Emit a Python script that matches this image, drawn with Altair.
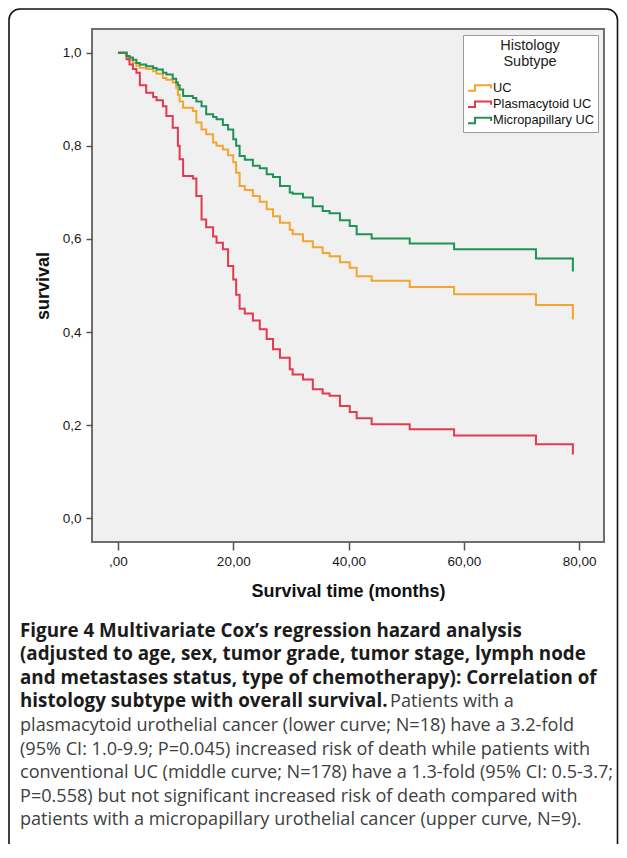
import altair as alt
import pandas as pd

# ---------------- data ----------------
times = [0, 1.5, 2.0, 2.6, 3.2, 3.8, 4.9, 6.1, 6.7, 7.8,
         8.4, 9.5, 10.1, 10.4, 10.7, 11.3, 13.0, 13.6, 14.5, 15.3,
         16.5, 17.1, 18.2, 19.1, 20.0, 20.5, 21.1, 22.0, 23.4, 24.6,
         25.8, 26.9, 28.1, 29.8, 30.3, 32.1, 33.8, 35.5, 36.7, 38.5,
         40.2, 41.4, 44.0, 50.6, 58.3, 72.5, 78.9]

uc = [1.0, 0.993, 0.985, 0.978, 0.972, 0.968, 0.965, 0.96, 0.955, 0.946,
      0.942, 0.936, 0.925, 0.91, 0.895, 0.882, 0.875, 0.85, 0.835, 0.825,
      0.807, 0.80, 0.792, 0.78, 0.765, 0.742, 0.714, 0.705, 0.692, 0.68,
      0.664, 0.649, 0.635, 0.62, 0.61, 0.595, 0.582, 0.57, 0.563, 0.55,
      0.538, 0.52, 0.51, 0.497, 0.481, 0.458, 0.427]

plasmacytoid = [1.0, 0.986, 0.975, 0.965, 0.957, 0.93, 0.914, 0.905, 0.898, 0.885,
                0.864, 0.839, 0.839, 0.80, 0.771, 0.735, 0.73, 0.692, 0.642, 0.625,
                0.605, 0.592, 0.578, 0.542, 0.513, 0.48, 0.45, 0.44, 0.425, 0.406,
                0.385, 0.363, 0.345, 0.32, 0.309, 0.298, 0.277, 0.268, 0.263, 0.241,
                0.228, 0.215, 0.202, 0.191, 0.178, 0.159, 0.137]

micropapillary = [1.0, 0.993, 0.99, 0.985, 0.978, 0.975, 0.971, 0.967, 0.964, 0.957,
                  0.953, 0.944, 0.936, 0.93, 0.921, 0.907, 0.903, 0.895, 0.885, 0.868,
                  0.862, 0.857, 0.845, 0.835, 0.814, 0.80, 0.778, 0.77, 0.757, 0.752,
                  0.739, 0.733, 0.714, 0.70, 0.697, 0.689, 0.67, 0.66, 0.655, 0.64,
                  0.628, 0.61, 0.601, 0.590, 0.578, 0.558, 0.53]

groups = ["UC", "Plasmacytoid UC", "Micropapillary UC"]
group_colors = ["#f2a531", "#e23a4e", "#1f9256"]

x_tick_values = [0, 20, 40, 60, 80]
x_tick_labels = [",00", "20,00", "40,00", "60,00", "80,00"]
y_tick_values = [0.0, 0.2, 0.4, 0.6, 0.8, 1.0]
y_tick_labels = ["0,0", "0,2", "0,4", "0,6", "0,8", "1,0"]

caption_bold = [
    "Figure 4 Multivariate Cox\u2019s regression hazard analysis",
    "(adjusted to age, sex, tumor grade, tumor stage, lymph node",
    "and metastases status, type of chemotherapy): Correlation of",
    "histology subtype with overall survival.",
]
caption_regular_inline = "Patients with a"
caption_regular = [
    "plasmacytoid urothelial cancer (lower curve; N=18) have a 3.2-fold",
    "(95% CI: 1.0-9.9; P=0.045) increased risk of death while patients with",
    "conventional UC (middle curve; N=178) have a 1.3-fold (95% CI: 0.5-3.7;",
    "P=0.558) but not significant increased risk of death compared with",
    "patients with a micropapillary urothelial cancer (upper curve, N=9).",
]

# ---------------- build table ----------------
rows = []
for name, vals in zip(groups, [uc, plasmacytoid, micropapillary]):
    for t, s in zip(times, vals):
        rows.append({"time": t, "survival": s, "group": name})
df = pd.DataFrame(rows)


def label_expr(vals, labels):
    expr = "''"
    for v, l in reversed(list(zip(vals, labels))):
        expr = f"abs(datum.value - ({v})) < 1e-6 ? '{l}' : ({expr})"
    return expr


W, H = 512, 513
FONT = "Liberation Sans"
CAP_FONT = "Open Sans"

step_symbol = "M-1,0.5L0.27,0.5L0.27,-0.5L3.2,-0.5L3.2,0.1"

lines = alt.Chart(df).mark_line(interpolate="step-after", strokeWidth=2).encode(
    x=alt.X("time:Q",
            scale=alt.Scale(domain=[-4.5, 84.3], nice=False, zero=False),
            axis=alt.Axis(values=x_tick_values,
                          labelExpr=label_expr(x_tick_values, x_tick_labels),
                          title="Survival time (months)",
                          tickSize=8, labelPadding=4, labelFontSize=13.5,
                          titleX=W / 2, titleY=49, titleBaseline="middle",
                          titleFontSize=18)),
    y=alt.Y("survival:Q",
            scale=alt.Scale(domain=[-0.051, 1.051], nice=False, zero=False),
            axis=alt.Axis(values=y_tick_values,
                          labelExpr=label_expr(y_tick_values, y_tick_labels),
                          title="survival",
                          tickSize=6, labelPadding=5, labelFontSize=13.5,
                          titleX=-49, titleY=H / 2, titleAngle=270,
                          titleAlign="center", titleBaseline="middle",
                          titleFontSize=18)),
    color=alt.Color("group:N",
                    scale=alt.Scale(domain=groups, range=group_colors),
                    sort=groups,
                    legend=alt.Legend(
                        title=["Histology", "Subtype"],
                        orient="none", legendX=371, legendY=6,
                        titleAnchor="middle", titleAlign="center",
                        titleFont=FONT, titleFontSize=14.5, titleFontWeight="normal",
                        titleColor="#222", titleLineHeight=16, titlePadding=12,
                        labelFont=FONT, labelFontSize=12.8, labelColor="#111",
                        labelOffset=13,
                        symbolType=step_symbol, symbolSize=121,
                        symbolStrokeWidth=2, symbolFillColor="transparent",
                        rowPadding=1.2, padding=4,
                        strokeColor="#9a9a9a", fillColor="white")),
    order=alt.Order("time:Q"),
)

one = alt.Data(values=[{}])

border = alt.Chart(one).mark_rect(
    fill="transparent", stroke="#111", strokeWidth=1.6, cornerRadius=11
).encode(x=alt.value(-83), x2=alt.value(525.5), y=alt.value(-20), y2=alt.value(900))

layers = [border, lines]

X0 = -72
Y0 = 607.5
LH = 23.6
BOLD_SIZE = 18.8
REG_SIZE = 18.1
for i, txt in enumerate(caption_bold):
    layers.append(alt.Chart(one).mark_text(
        align="left", baseline="alphabetic", font=CAP_FONT, fontSize=BOLD_SIZE,
        fontWeight="bold", color="#1b1b1b", text=txt
    ).encode(x=alt.value(X0), y=alt.value(Y0 + i * LH)))

layers.append(alt.Chart(one).mark_text(
    align="left", baseline="alphabetic", font=CAP_FONT, fontSize=REG_SIZE,
    fontWeight="normal", color="#404040", text=caption_regular_inline
).encode(x=alt.value(298), y=alt.value(Y0 + 3 * LH)))

for j, txt in enumerate(caption_regular):
    layers.append(alt.Chart(one).mark_text(
        align="left", baseline="alphabetic", font=CAP_FONT, fontSize=REG_SIZE,
        fontWeight="normal", color="#404040", text=txt
    ).encode(x=alt.value(X0), y=alt.value(Y0 + (4 + j) * LH)))

chart = alt.layer(*layers).properties(
    width=W, height=H,
    autosize=alt.AutoSizeParams(type="none"),
    padding={"left": 84, "top": 21, "right": 15, "bottom": 302},
).configure_view(
    fill="#f0f0f0", stroke="#6e6e6e", strokeWidth=2
).configure_axis(
    grid=False, domain=False, tickColor="#555", tickWidth=1.5,
    labelFont=FONT, labelColor="#1a1a1a",
    titleFont=FONT, titleFontWeight="bold", titleColor="#111",
)

chart.save("out.html", embed_options={"renderer": "svg", "actions": False})
